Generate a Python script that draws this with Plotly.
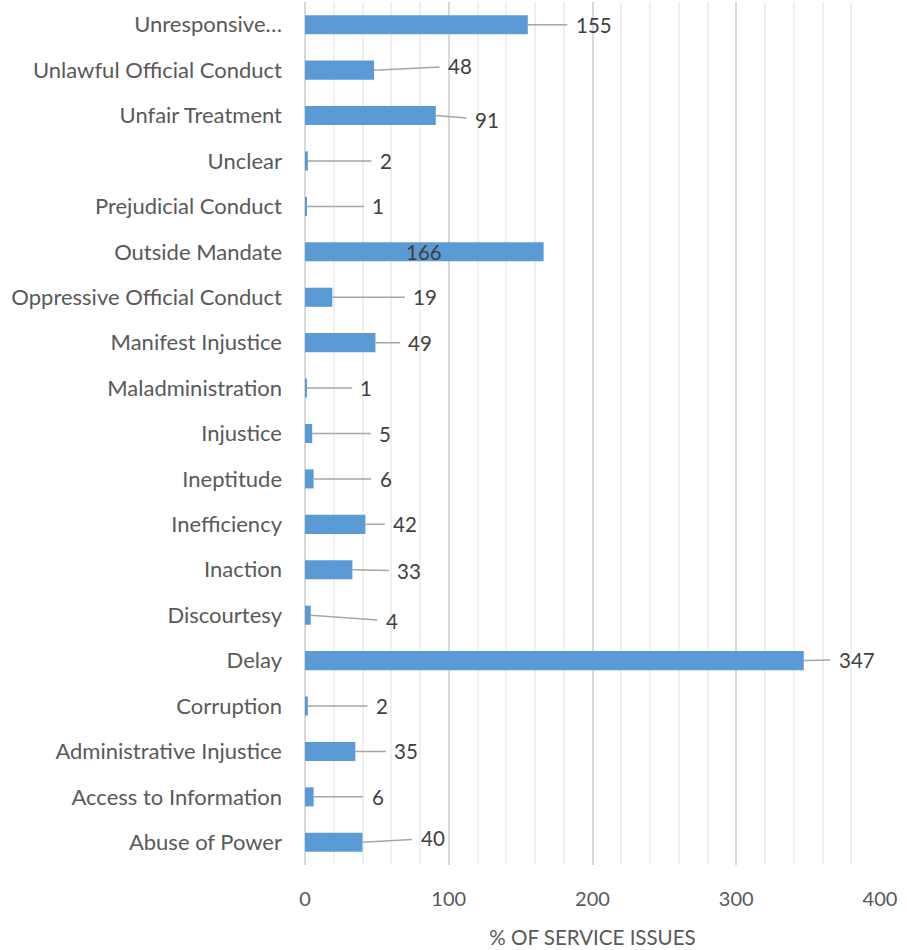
import plotly.graph_objects as go

categories = ["Abuse of Power", "Access to Information", "Administrative Injustice", "Corruption",
              "Delay", "Discourtesy", "Inaction", "Inefficiency", "Ineptitude", "Injustice",
              "Maladministration", "Manifest Injustice", "Oppressive Official Conduct",
              "Outside Mandate", "Prejudicial Conduct", "Unclear", "Unfair Treatment",
              "Unlawful Official Conduct", "Unresponsive…"]
values = [40, 6, 35, 2, 347, 4, 33, 42, 6, 5, 1, 49, 19, 166, 1, 2, 91, 48, 155]

# label offsets (pixels) for the leader-line data labels
label_dx = [70, 64, 51, 74, 53, 81, 57, 40, 72, 73, 60, 45, 93, -120, 72, 78, 51, 86, 66]
label_dy = [-4, 0, 0, 0, -1, 6, 1, 0, 0, 0, 0, 0, 0, 0, 0, 0, 4, -4, 0]
show_leader = [True] * 13 + [False] + [True] * 5

BAR = "#5B9BD5"
FONT = "Lato, 'Open Sans', sans-serif"

fig = go.Figure(go.Bar(
    x=values, y=categories, orientation="h",
    marker=dict(color=BAR, line=dict(width=0)),
    width=0.42, hoverinfo="x+y",
))

for c, v, dx, dy, sl in zip(categories, values, label_dx, label_dy, show_leader):
    fig.add_annotation(
        x=v, y=c, xref="x", yref="y", text=str(v),
        showarrow=True, arrowhead=0, arrowwidth=1.5,
        arrowcolor="#A6A6A6" if sl else "rgba(0,0,0,0)",
        ax=dx, ay=dy, standoff=0, startstandoff=4, borderpad=4,
        font=dict(family=FONT, size=20.5, color="#404040"),
    )

fig.update_layout(
    width=907, height=950,
    margin=dict(l=305, r=27, t=2, b=85),
    paper_bgcolor="white", plot_bgcolor="white",
    showlegend=False,
    font=dict(family=FONT, color="#595959"),
    bargap=0.58,
)
fig.update_xaxes(
    range=[0, 400], dtick=100, tick0=0,
    showgrid=True, gridcolor="#D9D9D9", gridwidth=1.5,
    zeroline=True, zerolinecolor="#D9D9D9", zerolinewidth=1.5,
    minor=dict(dtick=20, showgrid=True, gridcolor="#F0F0F0", gridwidth=1.5),
    tickfont=dict(size=20, color="#595959"),
    ticks="", showline=False,
    ticklabelstandoff=20,
    title=dict(text="% OF SERVICE ISSUES", font=dict(size=20.5, color="#595959"), standoff=21),
    fixedrange=True,
)
fig.update_yaxes(
    type="category", categoryorder="array", categoryarray=categories,
    showgrid=False, ticks="", showline=False,
    tickfont=dict(size=22, color="#595959"),
    ticklabelstandoff=22,
    fixedrange=True,
)

fig.write_html(
    "out.html",
    config={"displayModeBar": False},
    post_script="document.body.style.margin='0';window.dispatchEvent(new Event('resize'));",
)
